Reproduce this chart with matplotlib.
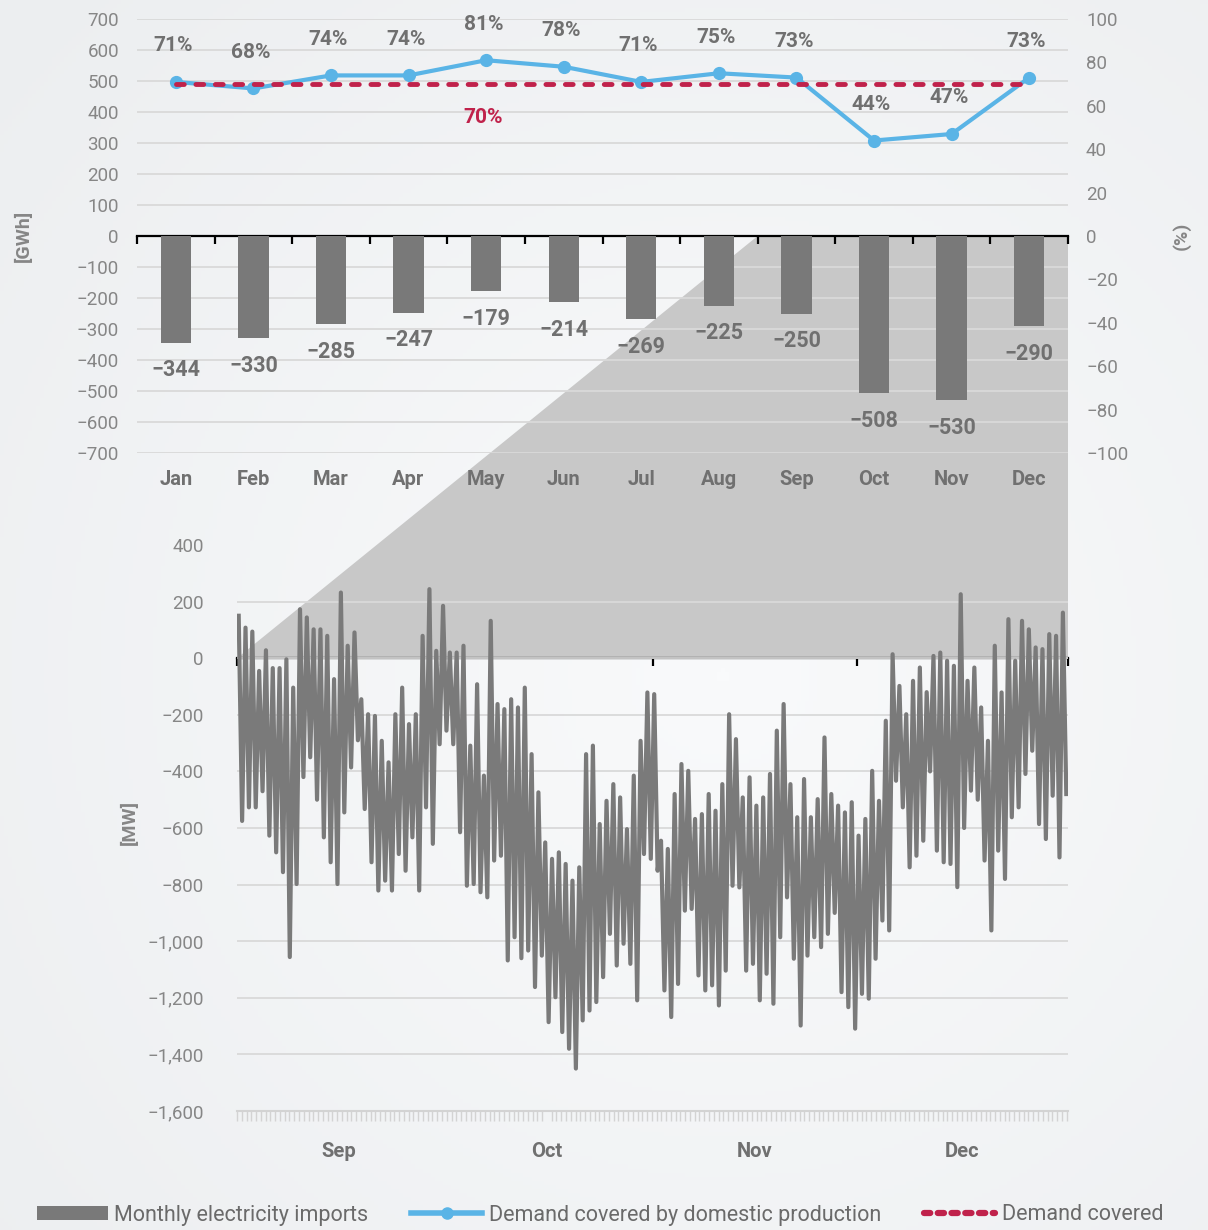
import numpy as np
import matplotlib
matplotlib.use('Agg')
import matplotlib.pyplot as plt
from matplotlib.colors import LinearSegmentedColormap
from matplotlib.lines import Line2D
from matplotlib.patches import Patch, Polygon
from matplotlib.ticker import FuncFormatter, MultipleLocator

# monthly balance (top panel)
months = ['Jan', 'Feb', 'Mar', 'Apr', 'May', 'Jun', 'Jul', 'Aug', 'Sep', 'Oct', 'Nov', 'Dec']
imports_gwh = [-344, -330, -285, -247, -179, -214, -269, -225, -250, -508, -530, -290]
domestic_pct = [71, 68, 74, 74, 81, 78, 71, 75, 73, 44, 47, 73]
target_pct = 70

# hourly balance Sep-Dec (bottom panel), read as daily highs / lows [MW]
hourly_months = ['Sep', 'Oct', 'Nov', 'Dec']
month_days = [30, 31, 30, 31]
daily_high = [150, 108, 94, -45, 28, -35, -35, -4, -104, 173,
              144, 102, 102, 79, -74, 232, 44, 91, -145, -198,
              -204, -292, -368, -198, -104, -233, -198, 79, 244, 26,
              185, 20, 20, 44, -309, -92, -415, 132, -162, -180,
              -145, -174, -104, -339, -474, -651, -709, -686, -727, -786,
              -739, -339, -309, -586, -504, -445, -492, -604, -415, -292,
              -121, -127, -645, -674, -480, -374, -398, -568, -551, -480,
              -539, -445, -198, -286, -492, -421, -521, -492, -409, -256,
              -162, -445, -562, -427, -562, -498, -280, -480, -521, -545,
              -509, -627, -568, -398, -504, -221, 14, -98, -198, -80,
              -33, -120, 8, 20, -9, -27, 226, -80, -33, -174,
              -292, 44, -121, 138, -9, 132, 102, 38, 32, 85,
              79, 161]
daily_low = [-575, -527, -527, -470, -627, -686, -756, -1056, -798, -420,
             -350, -500, -633, -721, -798, -545, -386, -290, -533, -721,
             -821, -786, -821, -692, -751, -633, -821, -527, -656, -304,
             -256, -304, -615, -804, -798, -827, -845, -715, -698, -1068,
             -986, -1060, -1033, -1162, -1051, -1286, -1198, -1321, -1380, -1450,
             -1280, -1245, -1215, -1127, -974, -1086, -1009, -1080, -1209, -692,
             -709, -751, -1174, -1268, -1151, -892, -886, -1121, -1174, -1156,
             -1227, -1104, -804, -810, -1104, -1080, -1209, -1115, -1221, -986,
             -845, -1062, -1298, -1051, -986, -1021, -974, -900, -1180, -1233,
             -1309, -1186, -1203, -1062, -927, -962, -433, -527, -739, -698,
             -645, -400, -680, -721, -727, -809, -600, -468, -500, -715,
             -962, -680, -780, -562, -527, -409, -327, -586, -639, -486,
             -704, -480]

W, H = 1208, 1230
GRAY_TXT = '#868686'
LABEL_TXT = '#707070'
BAR = '#797979'
BLUE = '#5ab4e6'
RED = '#c0224b'
GRID = '#d9d9d9'

plt.rcParams['font.family'] = ['Roboto', 'DejaVu Sans']


def signed(v, pos=None):
    s = f'{abs(v):,.0f}'
    return '\u2212' + s if v < 0 else s


fig = plt.figure(figsize=(W / 100, H / 100), dpi=100)

# soft radial background
bg = fig.add_axes([0, 0, 1, 1], zorder=-2)
yy, xx = np.mgrid[0:1:300j, 0:1:300j]
r = np.hypot(xx - 0.6, yy - 0.45)
bg.imshow(r, extent=[0, 1, 0, 1], origin='lower', aspect='auto',
          cmap=LinearSegmentedColormap.from_list('bg', ['#f9fafb', '#eceef0']))
bg.axis('off')

# ---- top panel: monthly imports + coverage
ax1 = fig.add_axes([137 / W, 1 - 453 / H, 931 / W, 434 / H])
ax1.set_facecolor('none')
x = np.arange(len(months))
bars = ax1.bar(x, imports_gwh, width=0.39, color=BAR, zorder=3)
ax1.bar_label(bars, labels=[signed(v) for v in imports_gwh], padding=12,
              fontsize=15.5, fontweight='bold', color=LABEL_TXT)
ax1.set_xlim(-0.5, len(months) - 0.5)
ax1.set_ylim(-700, 700)
ax1.set_yticks(range(-700, 701, 100))
ax1.yaxis.set_major_formatter(FuncFormatter(signed))
ax1.grid(axis='y', color=GRID, lw=1.3)
ax1.set_axisbelow(True)
for s in ['top', 'right', 'left']:
    ax1.spines[s].set_visible(False)
ax1.spines['bottom'].set_position(('data', 0))
ax1.spines['bottom'].set_linewidth(1.6)
ax1.set_xticks(np.arange(-0.5, len(months), 1))
ax1.tick_params(axis='x', direction='out', length=6, width=1.6, labelbottom=False)
ax1.tick_params(axis='y', length=0, pad=13, labelsize=13.5, labelcolor=GRAY_TXT)
ax1.set_ylabel('[GWh]', fontsize=14, fontweight='bold', color=GRAY_TXT)
ax1.yaxis.set_label_coords(-0.112, 0.5)

mlab = ax1.secondary_xaxis('bottom')
mlab.set_xticks(x, months)
mlab.tick_params(length=0, pad=12, labelsize=14.5, labelcolor=LABEL_TXT)
mlab.spines['bottom'].set_visible(False)
for t in mlab.get_xticklabels():
    t.set_fontweight('bold')

ax1r = ax1.twinx()
ax1r.set_ylim(-100, 100)
ax1r.set_yticks(range(-100, 101, 20))
ax1r.yaxis.set_major_formatter(FuncFormatter(signed))
ax1r.plot(x, domestic_pct, color=BLUE, lw=3, marker='o', ms=8.5, zorder=4)
ax1r.plot(x, [target_pct] * len(months), color=RED, lw=3.5, ls=(0, (1.6, 2.4)),
          dash_capstyle='round', zorder=5)
for i, v in enumerate(domestic_pct):
    ax1r.annotate(f'{v}%', (i, v), xytext=(-2, 26), textcoords='offset points',
                  ha='center', va='center', fontsize=15, fontweight='bold',
                  color=LABEL_TXT)
ax1r.annotate(f'{target_pct}%', (4, target_pct), xytext=(-2, -24),
              textcoords='offset points', ha='center', va='center',
              fontsize=15, fontweight='bold', color=RED)
for s in ax1r.spines.values():
    s.set_visible(False)
ax1r.tick_params(axis='y', length=0, pad=13, labelsize=13.5, labelcolor=GRAY_TXT)
ax1r.set_ylabel('(%)', fontsize=14, fontweight='bold', color=GRAY_TXT)
ax1r.yaxis.set_label_coords(1.112, 0.5)

# ---- bottom panel: hourly balance
ax2 = fig.add_axes([237 / W, 1 - 1111 / H, 831 / W, 566 / H])
ax2.set_facecolor('none')
days = np.arange(len(daily_high))
xs = (days[:, None] + np.array([0.25, 0.75])).ravel()
ys = np.column_stack([daily_high, daily_low]).ravel()
ax2.plot(xs, ys, color='#7a7a7a', lw=3.0, zorder=3)
bounds = np.concatenate([[0], np.cumsum(month_days)])
ax2.set_xlim(bounds[0], bounds[-1])
ylo, yhi = -1600, 400
ax2.set_ylim(ylo, yhi)
ax2.set_yticks(range(ylo, yhi + 1, 200))
ax2.yaxis.set_major_formatter(FuncFormatter(signed))
ax2.grid(axis='y', color=GRID, lw=1.3)
ax2.get_ygridlines()[-1].set_visible(False)
ax2.set_axisbelow(True)
for s in ['top', 'right', 'left']:
    ax2.spines[s].set_visible(False)
ax2.spines['bottom'].set_color('#d3d3d3')
ax2.spines['bottom'].set_linewidth(1.5)
ax2.set_xticks((bounds[:-1] + bounds[1:]) / 2, hourly_months)
ax2.xaxis.set_minor_locator(MultipleLocator(0.7))
ax2.tick_params(axis='x', which='major', length=0, pad=22, labelsize=14.5,
                labelcolor=LABEL_TXT)
ax2.tick_params(axis='x', which='minor', length=7, width=1, color='#d3d3d3')
for t in ax2.get_xticklabels():
    t.set_fontweight('bold')
ax2.tick_params(axis='y', length=0, pad=24, labelsize=13.5, labelcolor=GRAY_TXT)
ax2.set_ylabel('[MW]', fontsize=14, fontweight='bold', color=GRAY_TXT)
ax2.yaxis.set_label_coords(-0.118, 0.51)

zero = ax2.secondary_xaxis((0 - ylo) / (yhi - ylo))
zero.set_xticks(bounds)
zero.tick_params(direction='in', length=6, width=1.6, colors='black',
                 labeltop=False, labelbottom=False)
for s in zero.spines.values():
    s.set_linewidth(1.6)
    s.set_color('black')

# zoom wedge linking Sep-Dec bars to the hourly panel
to_fig = fig.transFigure.inverted()
corners = [ax2.transData.transform((bounds[0], 0)),
           ax1.transData.transform((months.index('Sep') - 0.5, 0)),
           ax1.transData.transform((len(months) - 0.5, 0)),
           ax2.transData.transform((bounds[-1], 0))]
fig.add_artist(Polygon(to_fig.transform(corners), closed=True, facecolor='#c8c8c8',
                       edgecolor='none', transform=fig.transFigure, zorder=-1))

handles = [Patch(facecolor=BAR, edgecolor='none'),
           Line2D([], [], color=BLUE, lw=4, marker='o', ms=8),
           Line2D([], [], color=RED, lw=4.5, ls=(0, (1.0, 1.2)), dash_capstyle='round')]
labels = ['Monthly electricity imports', 'Demand covered by domestic production',
          'Demand covered']
fig.legend(handles, labels, loc='center left', bbox_to_anchor=(28 / W, 1 - 1215 / H),
           ncol=3, frameon=False, handlelength=3.3, handleheight=0.6,
           handletextpad=0.3, columnspacing=2.0, borderaxespad=0,
           prop={'family': ['Roboto', 'DejaVu Sans'], 'size': 15.5},
           labelcolor='#6a6a6a')

fig.savefig('out.png', dpi=100, facecolor='#f3f4f5')
